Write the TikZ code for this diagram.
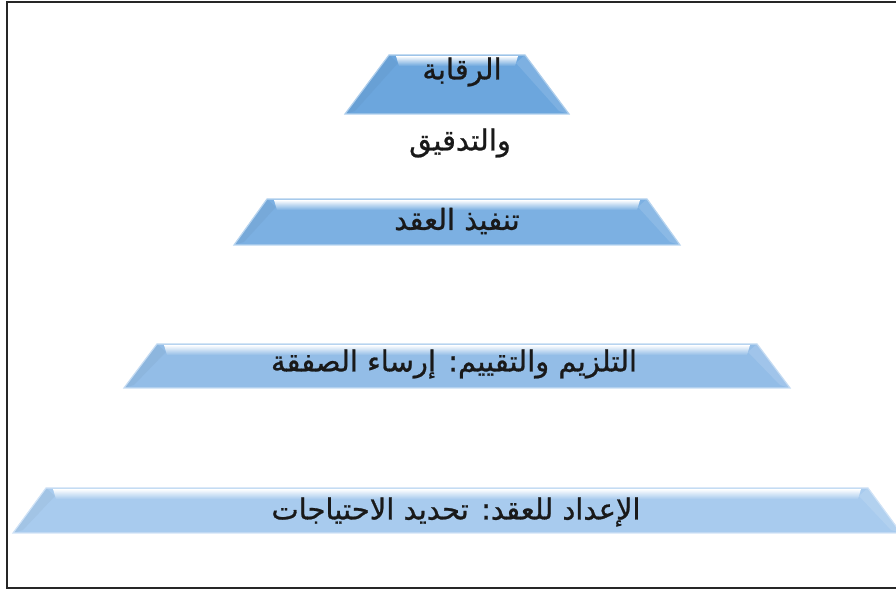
\documentclass[tikz,border=0pt]{standalone}
\usepackage{fontspec}
\newfontfamily\arabicfont[Script=Arabic,FakeBold=0.8]{DejaVu Sans}
\TeXXeTstate=1
\definecolor{lvlA}{HTML}{6CA6DD}
\definecolor{lvlB}{HTML}{7CB0E2}
\definecolor{lvlC}{HTML}{93BDE7}
\definecolor{lvlD}{HTML}{A8CBEE}
\begin{document}
\begin{tikzpicture}[x=0.5pt,y=-0.5pt,
    level/.style={font=\arabicfont\fontsize{14.5}{16}\selectfont, inner sep=0pt, text=black!90},
    frame line/.style={line width=1.1pt, black!85}]
  \useasboundingbox (0,0) rectangle (896,592);
  \draw[frame line] (7,2) rectangle (912,588);

  \foreach \t/\b/\a/\c/\col in {55/114/68/112/lvlA, 199/245/190/223/lvlB,
      344/388/300/333/lvlC, 488/533/411/444/lvlD}{
    \fill[\col] ({457-\a},\t) -- ({457+\a},\t) -- ({457+\c},\b) -- ({457-\c},\b) -- cycle;
    \fill[\col!90!black, opacity=0.35] ({457-\a},\t) -- ({457-\a+9},{\t+8})
      -- ({457-\c+10},{\b-3}) -- ({457-\c},\b) -- cycle;
    \fill[\col!80!white, opacity=0.6] ({457+\a},\t) -- ({457+\a-9},{\t+8})
      -- ({457+\c-10},{\b-3}) -- ({457+\c},\b) -- cycle;
    \shade[top color=white, bottom color=\col] ({457-\a+7},{\t+1})
      -- ({457+\a-7},{\t+1}) -- ({457+\a-10},{\t+11}) -- ({457-\a+10},{\t+11}) -- cycle;
    \draw[\col!55!white, line width=0.6pt] ({457-\a},\t) -- ({457+\a},\t)
      -- ({457+\c},\b) -- ({457-\c},\b) -- cycle;
  }

  \node[level] (raqaba) at (462,72) {\beginR الرقابة\endR};
  \node[level] (tadqiq) at (460,143) {\beginR والتدقيق\endR};
  \node[level] (tanfidh) at (457,221) {\beginR تنفيذ العقد\endR};
  \node[level] (talzim) at (454,364) {\beginR التلزيم والتقييم: إرساء الصفقة\endR};
  \node[level] (iidad) at (456,512) {\beginR الإعداد للعقد: تحديد الاحتياجات\endR};
\end{tikzpicture}
\end{document}
